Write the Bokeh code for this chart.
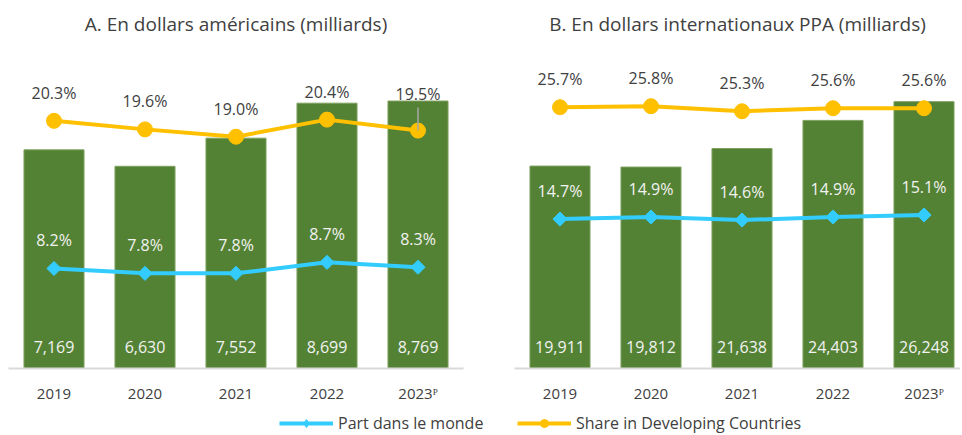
import numpy as np
from bokeh.plotting import figure
from bokeh.models import Range1d, FixedTicker, ColumnDataSource, Legend, LegendItem, Title
from bokeh.layouts import column, row
from bokeh.core.properties import value
from bokeh.embed import file_html
from bokeh.resources import INLINE

# ---------------- data ----------------
years = ["2019", "2020", "2021", "2022", "2023ᴾ"]

usd_values = [7169, 6630, 7552, 8699, 8769]          # milliards USD
usd_world_share = [8.2, 7.8, 7.8, 8.7, 8.3]          # % part dans le monde
usd_dev_share = [20.3, 19.6, 19.0, 20.4, 19.5]       # % share in developing countries

ppp_values = [19911, 19812, 21638, 24403, 26248]     # milliards $ PPA
ppp_world_share = [14.7, 14.9, 14.6, 14.9, 15.1]
ppp_dev_share = [25.7, 25.8, 25.3, 25.6, 25.6]

title_a = "A. En dollars américains (milliards)"
title_b = "B. En dollars internationaux PPA (milliards)"
legend_world = "Part dans le monde"
legend_dev = "Share in Developing Countries"

# ---------------- style ----------------
FONT = "Open Sans"
GREEN = "#548235"
YELLOW = "#FFC000"
BLUE = "#33CCFF"
DARK = "#404040"
LIGHT = "#F2F2F2"
FRAME_H = 305


def panel(title, bars, world, dev, bar_max, pct_max, border_left, border_right,
          frame_w, x_end, dev_lift, leader=None):
    x = list(range(len(years)))
    src = ColumnDataSource(dict(
        x=x, bars=bars, world=world, dev=dev,
        bar_lbl=["{:,}".format(v) for v in bars],
        world_lbl=["{:.1f}%".format(v) for v in world],
        dev_lbl=["{:.1f}%".format(v) for v in dev],
        dev_dy=[-d for d in dev_lift],
        zero=[0] * len(x),
    ))
    p = figure(frame_width=frame_w, frame_height=FRAME_H, title=None,
               x_range=Range1d(-0.5, x_end), y_range=Range1d(0, bar_max),
               output_backend="svg", toolbar_location=None,
               y_axis_location=None, x_axis_location="below",
               min_border_left=border_left, min_border_right=border_right,
               min_border_top=63, min_border_bottom=34)
    p.extra_y_ranges = {"pct": Range1d(0, pct_max)}
    p.grid.visible = False
    p.outline_line_color = None
    p.background_fill_color = "white"
    p.border_fill_color = "white"

    # spacer (closest to the frame) then the real title above it
    p.add_layout(Title(text=" ", text_font_size="1px", standoff=24), "above")
    p.add_layout(Title(text=title, align="center", text_font=FONT,
                       text_font_size="19px", text_font_style="normal",
                       text_color=DARK, standoff=0), "above")

    ax = p.xaxis[0]
    ax.ticker = FixedTicker(ticks=x)
    ax.major_label_overrides = {i: yr for i, yr in enumerate(years)}
    ax.major_tick_line_color = None
    ax.minor_tick_line_color = None
    ax.axis_line_color = "#D9D9D9"
    ax.axis_line_width = 2
    ax.major_label_text_font = FONT
    ax.major_label_text_font_size = "15px"
    ax.major_label_text_color = DARK
    ax.major_label_standoff = 8

    p.vbar(x="x", top="bars", width=0.66, source=src,
           fill_color=GREEN, line_color="#7FA05F", line_width=1)

    p.line("x", "world", source=src, y_range_name="pct", color=BLUE, line_width=4)
    p.scatter("x", "world", source=src, y_range_name="pct", marker="square",
              angle=np.pi / 4, size=10, color=BLUE)

    p.line("x", "dev", source=src, y_range_name="pct", color=YELLOW, line_width=4)
    p.scatter("x", "dev", source=src, y_range_name="pct", marker="circle",
              size=15, color=YELLOW)

    if leader is not None:
        i, length = leader
        p.segment(x0=[x[i]], y0=[dev[i]], x1=[x[i]], y1=[dev[i] + length],
                  y_range_name="pct", line_color="#A6A6A6", line_width=1.5)

    p.text("x", "dev", text="dev_lbl", source=src, y_range_name="pct",
           y_offset="dev_dy", text_align="center", text_baseline="middle",
           text_font=value(FONT), text_font_size="16px", text_color=DARK)
    p.text("x", "world", text="world_lbl", source=src, y_range_name="pct",
           y_offset=-28, text_align="center", text_baseline="middle",
           text_font=value(FONT), text_font_size="16px", text_color=LIGHT)
    p.text("x", "zero", text="bar_lbl", source=src,
           y_offset=-22, text_align="center", text_baseline="middle",
           text_font=value(FONT), text_font_size="16px", text_color=LIGHT)
    return p


pa = panel(title_a, usd_values, usd_world_share, usd_dev_share, 10000, 25,
           8, 18, 455, 4.5, [28, 28, 28, 28, 37], leader=(4, 1.9))
pb = panel(title_b, ppp_values, ppp_world_share, ppp_dev_share, 30000, 30,
           33, 0, 446, -0.5 + 446 / 91, [28, 28, 28, 28, 28])

# ---------------- legend strip ----------------
leg = figure(width=960, height=33, x_range=Range1d(0, 1), y_range=Range1d(0, 1),
             output_backend="svg", toolbar_location=None,
             x_axis_location=None, y_axis_location=None,
             min_border=0)
leg.grid.visible = False
leg.outline_line_color = None
nan = [np.nan]
lw = leg.line(nan, nan, color=BLUE, line_width=4)
sw = leg.scatter(nan, nan, marker="diamond", size=10, color=BLUE)
ld = leg.line(nan, nan, color=YELLOW, line_width=4)
sd = leg.scatter(nan, nan, marker="circle", size=10, color=YELLOW)

for label, rends, xpos in [(legend_world, [lw, sw], 279), (legend_dev, [ld, sd], 517)]:
    lg = Legend(items=[LegendItem(label=label, renderers=rends)],
                location=(xpos, 4), orientation="horizontal",
                padding=0, margin=0, border_line_color=None,
                background_fill_alpha=0, glyph_width=54, glyph_height=20,
                label_standoff=5, label_text_font=FONT,
                label_text_font_size="16px", label_text_color=DARK)
    leg.add_layout(lg, "center")

layout = column(row(pa, pb), leg)
open("out.html", "w").write(file_html(layout, INLINE))
